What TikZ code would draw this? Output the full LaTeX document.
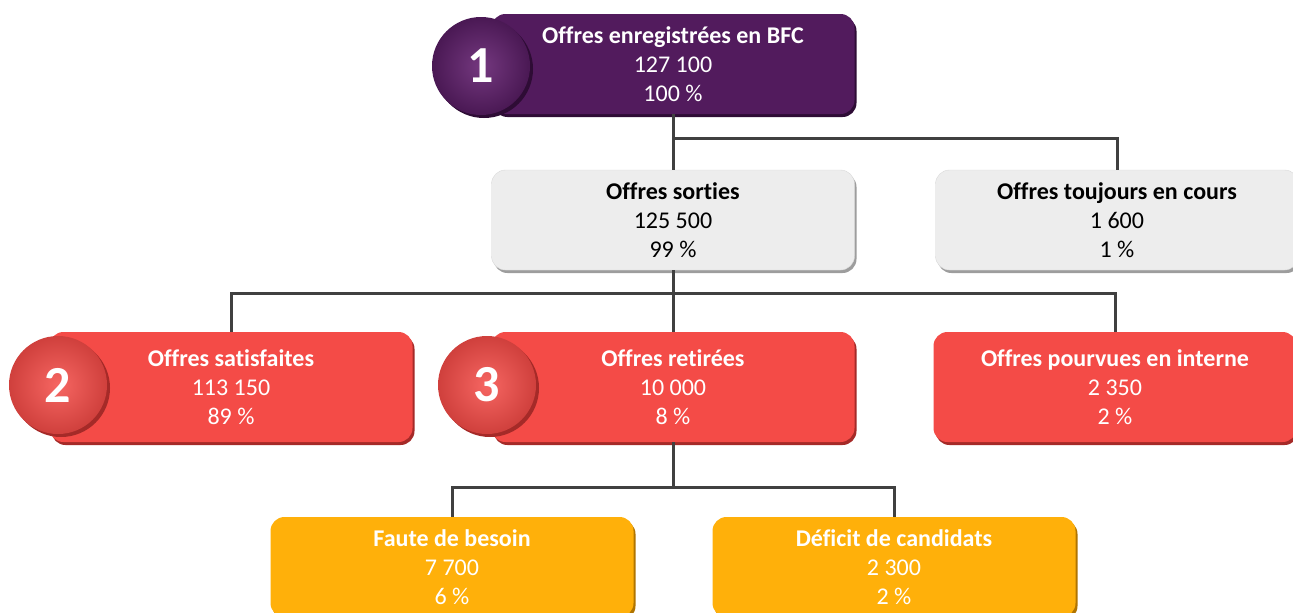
\documentclass[tikz,border=0pt]{standalone}
\usepackage{fontspec}
\setmainfont[Ligatures=NoCommon]{Carlito}
\usetikzlibrary{positioning,shadows}
\definecolor{bfcpurple}{HTML}{521B5D}
\definecolor{bfcpurpledark}{HTML}{2E0C35}
\definecolor{bfcpurpleball}{HTML}{74387F}
\definecolor{bfcred}{HTML}{F44B47}
\definecolor{bfcreddark}{HTML}{A52A28}
\definecolor{bfcredball}{HTML}{F66662}
\definecolor{bfcgrey}{HTML}{EDEDED}
\definecolor{bfcgreydark}{HTML}{9D9D9D}
\definecolor{bfcorange}{HTML}{FFB00A}
\definecolor{bfcorangedark}{HTML}{B07400}
\definecolor{linkgrey}{HTML}{404040}
\tikzset{%
	offre/.style     = {rectangle, rounded corners=14pt, minimum width=363pt, minimum height=100pt, inner sep=0pt, align=center, font=\fontsize{24}{29}\selectfont},
	purplebox/.style = {offre, fill=bfcpurple, text=white, general shadow={fill=bfcpurpledark, shadow xshift=2pt, shadow yshift=-3pt}},
	redbox/.style    = {offre, fill=bfcred, text=white, general shadow={fill=bfcreddark, shadow xshift=2pt, shadow yshift=-3pt}},
	greybox/.style   = {offre, fill=bfcgrey, draw=black!15, text=black, general shadow={fill=bfcgreydark, shadow xshift=2pt, shadow yshift=-3pt}},
	orangebox/.style = {offre, fill=bfcorange, text=white, general shadow={fill=bfcorangedark, shadow xshift=2pt, shadow yshift=-3pt}},
	numball/.style   = {circle, minimum size=98pt, inner sep=0pt, text=white, font=\fontsize{52}{52}\selectfont\bfseries},
	link/.style      = {line width=3pt, draw=linkgrey},
}

\begin{document}
\begin{tikzpicture}[x=1pt,y=-1pt]
	\useasboundingbox (0,0) rectangle (1293,613);
	\clip (0,0) rectangle (1293,613);
	
	% boxes
	\node[purplebox] (enreg) at (673,64) {\textbf{Offres enregistrées en BFC}\\127 100\\100 \%};
	\node[greybox] (sorties) at (673,220) {\textbf{Offres sorties}\\125 500\\99 \%};
	\node[greybox] (toujours) at (1117,220) {\textbf{Offres toujours en cours}\\1 600\\1 \%};
	\node[redbox, minimum height=110pt] (satisf) at (231,387) {\textbf{Offres satisfaites}\\113 150\\89 \%};
	\node[redbox, minimum height=110pt] (retirees) at (673,387) {\textbf{Offres retirées}\\10 000\\8 \%};
	\node[redbox, minimum height=110pt] (interne) at (1115,387) {\textbf{Offres pourvues en interne}\\2 350\\2 \%};
	\node[orangebox] (faute) at (452,567) {\textbf{Faute de besoin}\\7 700\\6 \%};
	\node[orangebox] (deficit) at (894,567) {\textbf{Déficit de candidats}\\2 300\\2 \%};
	
	% numbered balls
	\node[numball, inner color=bfcpurpleball, outer color=bfcpurple!90!black, general shadow={fill=bfcpurpledark, shadow xshift=3pt, shadow yshift=-3pt}] (one) at (481,66) {1};
	\node[numball, inner color=bfcredball, outer color=bfcred!85!black, general shadow={fill=bfcreddark, shadow xshift=3pt, shadow yshift=-3pt}] (two) at (58,385) {2};
	\node[numball, inner color=bfcredball, outer color=bfcred!85!black, general shadow={fill=bfcreddark, shadow xshift=3pt, shadow yshift=-3pt}] (three) at (487,385) {3};
	
	% connectors
	\coordinate (j1) at (673,138);
	\coordinate (j2) at (673,293);
	\coordinate (j3) at (673,487);
	\draw[link] (enreg.south) -- (j1) -| (toujours.north);
	\draw[link] (j1) -- (sorties.north);
	\draw[link] (sorties.south) -- (j2);
	\draw[link] (satisf.north) |- (j2) -| (interne.north);
	\draw[link] (j2) -- (retirees.north);
	\draw[link] (retirees.south) -- (j3);
	\draw[link] (faute.north) |- (j3) -| (deficit.north);
\end{tikzpicture}
\end{document}
